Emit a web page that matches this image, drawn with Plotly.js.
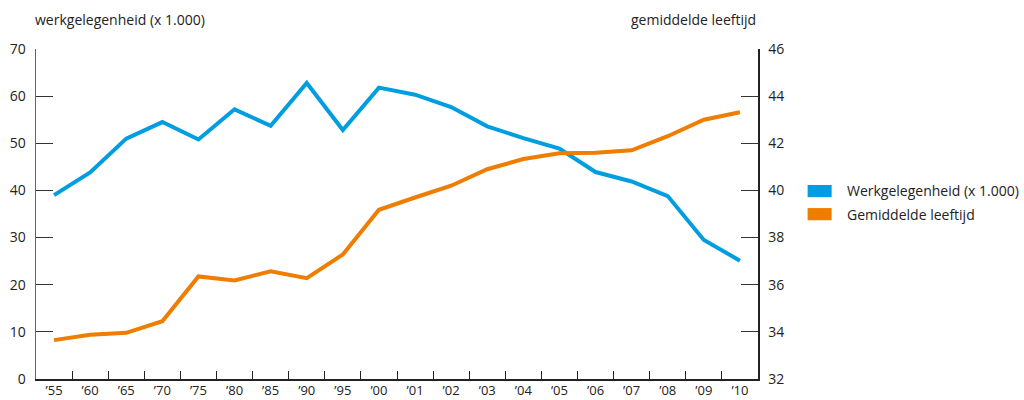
<!DOCTYPE html>
<html><head><meta charset="utf-8">
<script src="https://cdn.plot.ly/plotly-3.0.1.min.js"></script>
<style>html,body{margin:0;padding:0;background:#fff}#c{width:1024px;height:400px}</style>
</head><body><div id="c"></div>
<script>
const categories = ["’55","’60","’65","’70","’75","’80","’85","’90","’95","’00","’01","’02","’03","’04","’05","’06","’07","’08","’09","’10"];
const werkgelegenheid = [39,43.8,51,54.5,50.8,57.2,53.7,62.8,52.8,61.8,60.3,57.7,53.6,51.1,48.9,43.9,41.9,38.8,29.5,25.1];
const leeftijd = [33.65,33.88,33.96,34.45,36.35,36.18,36.57,36.28,37.28,39.18,39.7,40.2,40.9,41.33,41.58,41.6,41.7,42.3,43.0,43.32];
const seriesNames = ["Werkgelegenheid (x 1.000)","Gemiddelde leeftijd"];
const colors = ["#009ee0","#ef7d00"];
const font = {family:"Open Sans, DejaVu Sans, sans-serif", size:14, color:"#222"};
const xfont = {family:"Open Sans, DejaVu Sans, sans-serif", size:13, color:"#222"};

const traces = [
  {x:categories, y:werkgelegenheid, type:"scatter", mode:"lines", name:seriesNames[0], line:{color:colors[0], width:4}, yaxis:"y", showlegend:false},
  {x:categories, y:leeftijd, type:"scatter", mode:"lines", name:seriesNames[1], line:{color:colors[1], width:4}, yaxis:"y2", showlegend:false}
];
const layout = {
  width:1024, height:400, margin:{l:36, r:266, t:49, b:21},
  paper_bgcolor:"#fff", plot_bgcolor:"#fff", font:font, showlegend:false,
  xaxis:{type:"category", range:[-0.5,19.5], showgrid:false, zeroline:false, showline:true, linecolor:"#222", linewidth:1.5,
    ticks:"inside", ticklen:8, tickcolor:"#222", tickson:"boundaries", tickfont:xfont, ticklabelstandoff:-1},
  yaxis:{range:[0,70], dtick:10, showgrid:false, zeroline:false, showline:true, linecolor:"#666", linewidth:1.5,
    ticks:"inside", ticklen:17, tickcolor:"#333", tickfont:font, ticklabelstandoff:6},
  yaxis2:{range:[32,46], dtick:2, overlaying:"y", side:"right", showgrid:false, zeroline:false, showline:true, linecolor:"#222", linewidth:1.5,
    ticks:"inside", ticklen:17, tickcolor:"#333", tickfont:font, ticklabelstandoff:6},
  annotations:[
    {xref:"paper", yref:"paper", x:-0.004, y:1.09, xanchor:"left", yanchor:"middle", text:"werkgelegenheid (x 1.000)", showarrow:false, font:font},
    {xref:"paper", yref:"paper", x:1.0, y:1.09, xanchor:"right", yanchor:"middle", text:"gemiddelde leeftijd", showarrow:false, font:font},
    {xref:"paper", yref:"paper", x:1.12, y:0.570, xanchor:"left", yanchor:"middle", text:seriesNames[0], showarrow:false, font:font},
    {xref:"paper", yref:"paper", x:1.12, y:0.500, xanchor:"left", yanchor:"middle", text:seriesNames[1], showarrow:false, font:font}
  ],
  shapes:[
    {type:"rect", xref:"paper", yref:"paper", x0:1.0687, x1:1.1020, y0:0.551, y1:0.588, fillcolor:colors[0], line:{width:0}},
    {type:"rect", xref:"paper", yref:"paper", x0:1.0687, x1:1.1020, y0:0.481, y1:0.518, fillcolor:colors[1], line:{width:0}}
  ]
};
Plotly.newPlot("c", traces, layout, {displayModeBar:false, staticPlot:true});
</script></body></html>
